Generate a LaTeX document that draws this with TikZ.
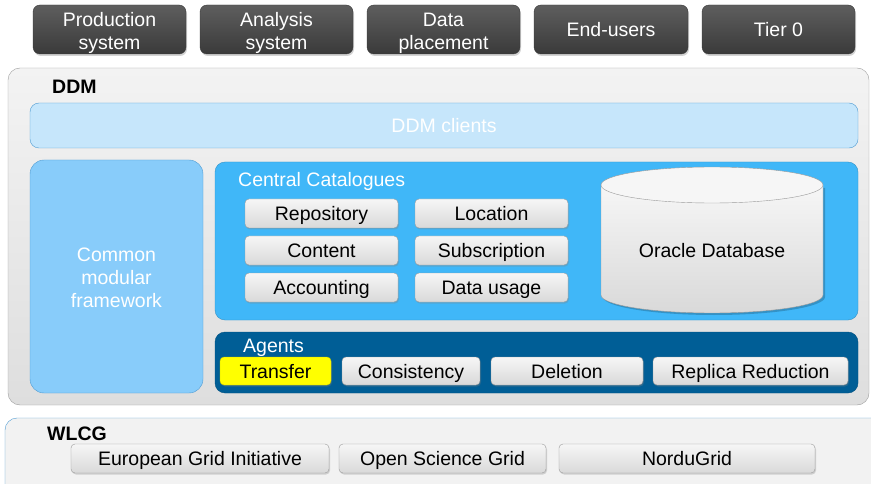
\documentclass[tikz,border=0pt]{standalone}
\usepackage{fontspec}
\setmainfont{Liberation Sans}
\usetikzlibrary{shadows}
\definecolor{darktop}{HTML}{5E5E5E}
\definecolor{darkbot}{HTML}{3A3A3A}
\definecolor{ddmtop}{HTML}{F3F3F3}
\definecolor{ddmbot}{HTML}{DEDEDE}
\definecolor{ddmborder}{HTML}{9C9C9C}
\definecolor{clientfill}{HTML}{C6E6FB}
\definecolor{blueborder}{HTML}{4E9BD2}
\definecolor{cmfill}{HTML}{88CCFA}
\definecolor{ccfill}{HTML}{40B7F8}
\definecolor{agfill}{HTML}{005E96}
\definecolor{btntop}{HTML}{F6F6F6}
\definecolor{btnbot}{HTML}{D9D9D9}
\definecolor{btnborder}{HTML}{9A9A9A}
\definecolor{wlcgfill}{HTML}{F2F2F2}
\definecolor{yel}{HTML}{FFFF00}
\tikzset{
  txt/.style={font=\fontsize{19.5}{23}\selectfont, text height=14pt, text depth=0pt},
  twoline/.style={text height=41pt, text depth=0pt},
  darkbox/.style={txt, rectangle, rounded corners=7pt, draw=darkbot, top color=darktop, bottom color=darkbot, text=white, align=center, inner sep=0pt, drop shadow={shadow xshift=1pt, shadow yshift=-2pt, opacity=0.35}},
  btn/.style={txt, rectangle, rounded corners=4pt, draw=btnborder, top color=btntop, bottom color=btnbot, text=black, inner sep=0pt, drop shadow={shadow xshift=1pt, shadow yshift=-1.5pt, opacity=0.3}},
  panel/.style={rectangle, rounded corners=14pt, inner sep=0pt},
  lbl/.style={txt, anchor=west, inner sep=0pt},
}
\begin{document}
\begin{tikzpicture}[x=1pt,y=-1pt]
\useasboundingbox (0,0) rectangle (871,484);
% top boxes
\node[darkbox, twoline, minimum width=153pt, minimum height=49pt] (prod) at (109.5,29.5) {Production\\system};
\node[darkbox, twoline, minimum width=153pt, minimum height=49pt] (ana) at (276.5,29.5) {Analysis\\system};
\node[darkbox, twoline, minimum width=153pt, minimum height=49pt] (dp) at (443.5,29.5) {Data\\placement};
\node[darkbox, minimum width=154pt, minimum height=49pt] (eu) at (611,29.5) {End-users};
\node[darkbox, minimum width=153pt, minimum height=49pt] (t0) at (778.5,29.5) {Tier 0};
% DDM outer
\node[panel, rounded corners=12pt, draw=ddmborder, top color=ddmtop, bottom color=ddmbot, minimum width=861pt, minimum height=337pt] (ddm) at (438.5,236.5) {};
\node[lbl, font=\fontsize{19.5}{23}\selectfont\bfseries] (ddmlbl) at (52,87) {DDM};
% DDM clients
\node[panel, rounded corners=9pt, draw=blueborder, fill=clientfill, minimum width=828pt, minimum height=45pt, txt, text=white] (clients) at (444,125.5) {DDM clients};
% Common modular framework
\node[panel, draw=blueborder, fill=cmfill, minimum width=173pt, minimum height=233pt, txt, text height=61pt, text depth=0pt, text=white, align=center] (cmf) at (116.5,276.5) {Common\\modular\\framework};
% Central catalogues
\node[panel, rounded corners=10pt, draw=ccfill!80!black, fill=ccfill, minimum width=643pt, minimum height=158pt] (cc) at (536.5,241) {};
\node[lbl, text=white] (cclbl) at (238,180) {Central Catalogues};
\node[btn, minimum width=153pt, minimum height=29pt] (repo) at (321.5,213.5) {Repository};
\node[btn, minimum width=153pt, minimum height=29pt] (cont) at (321.5,250.5) {Content};
\node[btn, minimum width=153pt, minimum height=29pt] (acc) at (321.5,287.5) {Accounting};
\node[btn, minimum width=153pt, minimum height=29pt] (loc) at (491.5,213.5) {Location};
\node[btn, minimum width=153pt, minimum height=29pt] (sub) at (491.5,250.5) {Subscription};
\node[btn, minimum width=153pt, minimum height=29pt] (du) at (491.5,287.5) {Data usage};
% Oracle database cylinder
\fill[black, opacity=0.2] (603,188) -- (603,297) .. controls (603,306.9) and (653.7,315) .. (714,315) .. controls (774.3,315) and (825,306.9) .. (825,297) -- (825,188) -- cycle;
\shade[top color=btntop, bottom color=btnbot, draw=btnborder] (601,185) -- (601,295) .. controls (601,304.9) and (650.7,313) .. (712,313) .. controls (773.3,313) and (823,304.9) .. (823,295) -- (823,185) -- cycle;
\draw[btnborder, fill=btntop] (712,185) ellipse [x radius=111, y radius=18];
\node[txt, inner sep=0pt] (db) at (712,251) {Oracle Database};
% Agents
\node[panel, rounded corners=10pt, fill=agfill, draw=agfill!85!black, minimum width=643pt, minimum height=61pt] (ag) at (536.5,362.5) {};
\node[lbl, text=white] (aglbl) at (243,345) {Agents};
\node[btn, top color=yel, bottom color=yel, draw=yel!80!black, minimum width=111pt, minimum height=28pt] (tr) at (275.5,371) {Transfer};
\node[btn, minimum width=138pt, minimum height=28pt] (cons) at (411,371) {Consistency};
\node[btn, minimum width=152pt, minimum height=28pt] (del) at (567,371) {Deletion};
\node[btn, minimum width=195pt, minimum height=28pt] (rr) at (750.5,371) {Replica Reduction};
% WLCG
\node[panel, rounded corners=12pt, draw=blueborder, fill=wlcgfill, minimum width=880pt, minimum height=80pt] (wlcg) at (445,458) {};
\node[lbl, font=\fontsize{19.5}{23}\selectfont\bfseries] (wlcglbl) at (47,433) {WLCG};
\node[btn, minimum width=258pt, minimum height=29pt] (egi) at (200,458.5) {European Grid Initiative};
\node[btn, minimum width=207pt, minimum height=29pt] (osg) at (442.5,458.5) {Open Science Grid};
\node[btn, minimum width=256pt, minimum height=29pt] (ng) at (687,458.5) {NorduGrid};
\end{tikzpicture}
\end{document}
